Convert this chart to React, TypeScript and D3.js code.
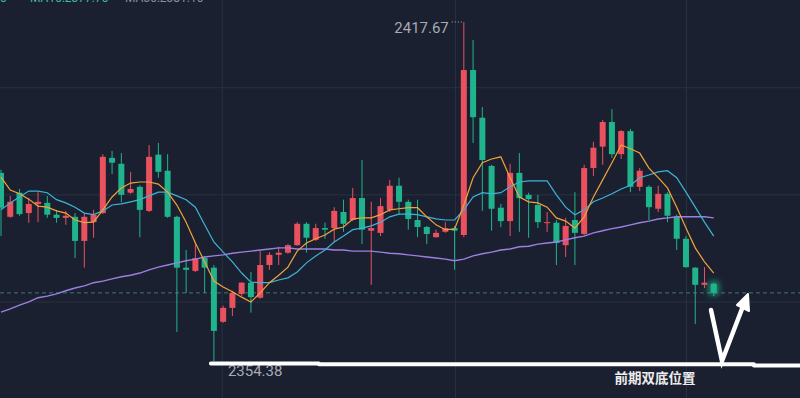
import React from 'react';
import * as d3 from 'd3';

const W = 800;
const H = 398;

const opens = [2389.5, 2381.3, 2385.8, 2382.0, 2383.7, 2383.9, 2381.7, 2381.1, 2381.3, 2376.8,
  2380.3, 2382.0, 2392.3, 2391.2, 2385.8, 2386.9, 2382.4, 2392.9, 2389.9, 2381.3,
  2371.8, 2371.2, 2373.6, 2371.8, 2361.7, 2364.3, 2366.9, 2369.0, 2366.2, 2372.3,
  2374.2, 2374.6, 2376.0, 2380.0, 2377.0, 2379.2, 2379.2, 2382.2, 2380.7, 2384.8,
  2378.7, 2378.3, 2382.6, 2387.1, 2384.1, 2380.7, 2379.4, 2377.5, 2378.5, 2379.2,
  2377.9, 2408.7, 2399.8, 2390.8, 2383.0, 2380.5, 2389.5, 2385.4, 2383.5, 2380.2,
  2380.2, 2376.0, 2380.7, 2378.1, 2390.4, 2394.4, 2399.0, 2393.0, 2397.3, 2386.9,
  2386.9, 2382.8, 2385.6, 2381.3, 2377.2, 2371.8, 2368.6, 2368.8];
const highs = [2390.1, 2385.2, 2386.5, 2384.8, 2385.9, 2385.2, 2382.6, 2382.4, 2382.0, 2382.0,
  2382.6, 2393.0, 2393.6, 2393.2, 2389.7, 2387.2, 2394.7, 2395.1, 2393.0, 2381.5,
  2375.1, 2376.6, 2374.0, 2372.3, 2364.7, 2367.5, 2369.1, 2371.0, 2374.9, 2374.7,
  2375.7, 2376.2, 2380.3, 2380.3, 2380.0, 2380.2, 2383.1, 2384.5, 2386.7, 2391.9,
  2384.1, 2384.8, 2388.2, 2388.6, 2384.5, 2384.5, 2379.6, 2378.9, 2380.3, 2379.6,
  2417.67, 2414.3, 2401.8, 2391.0, 2383.7, 2391.2, 2393.2, 2385.8, 2385.4, 2382.2,
  2380.7, 2381.1, 2385.9, 2391.0, 2395.3, 2399.4, 2401.4, 2397.5, 2397.7, 2390.4,
  2387.2, 2387.1, 2385.9, 2381.7, 2377.7, 2371.9, 2371.9, 2369.0];
const lows = [2377.7, 2381.1, 2381.5, 2380.2, 2380.3, 2381.1, 2380.2, 2379.8, 2373.6, 2371.8,
  2377.4, 2381.8, 2389.3, 2384.0, 2385.6, 2377.5, 2382.2, 2388.6, 2381.1, 2359.8,
  2367.1, 2371.0, 2367.1, 2354.38, 2361.5, 2362.8, 2366.5, 2363.4, 2366.0, 2371.4,
  2372.3, 2374.4, 2375.9, 2374.6, 2376.8, 2377.2, 2376.6, 2378.5, 2380.5, 2376.2,
  2368.6, 2377.7, 2382.2, 2381.7, 2378.9, 2377.5, 2376.2, 2377.4, 2378.3, 2371.4,
  2377.5, 2395.1, 2382.4, 2378.7, 2379.4, 2377.7, 2378.5, 2377.4, 2379.2, 2378.5,
  2372.3, 2373.8, 2372.3, 2377.9, 2388.9, 2391.0, 2392.3, 2392.1, 2385.9, 2386.1,
  2380.7, 2382.2, 2380.3, 2375.1, 2371.8, 2361.3, 2368.0, 2366.5];
const closes = [2383.0, 2384.1, 2381.8, 2383.7, 2384.1, 2381.7, 2381.1, 2381.5, 2376.8, 2381.3,
  2381.7, 2392.5, 2391.4, 2385.4, 2386.5, 2382.6, 2392.5, 2389.7, 2381.3, 2371.8,
  2371.4, 2373.6, 2371.8, 2360.0, 2364.3, 2367.1, 2369.0, 2366.3, 2372.3, 2374.2,
  2374.6, 2376.0, 2380.0, 2377.4, 2379.2, 2378.9, 2382.4, 2380.0, 2384.8, 2378.9,
  2379.2, 2383.3, 2387.1, 2384.1, 2380.9, 2379.4, 2378.1, 2378.3, 2379.2, 2378.7,
  2408.7, 2399.9, 2391.9, 2382.8, 2380.5, 2389.5, 2384.8, 2384.6, 2380.3, 2380.3,
  2376.4, 2379.6, 2378.3, 2390.4, 2394.2, 2399.0, 2393.0, 2397.3, 2386.9, 2389.9,
  2383.1, 2385.6, 2381.5, 2377.2, 2371.9, 2368.6, 2369.0, 2367.1];

const maShort = [2388.7, 2386.3, 2385.6, 2384.6, 2383.3, 2383.1, 2382.4, 2382.0, 2380.7, 2380.2,
  2380.3, 2382.6, 2385.0, 2386.7, 2387.6, 2387.8, 2387.8, 2387.4, 2385.9, 2383.5,
  2380.3, 2376.4, 2372.9, 2369.3, 2368.2, 2367.3, 2366.3, 2365.4, 2367.1, 2369.0,
  2370.4, 2371.9, 2374.9, 2376.4, 2377.2, 2377.9, 2379.0, 2379.4, 2380.9, 2381.1,
  2381.1, 2381.7, 2382.6, 2382.8, 2383.0, 2383.0, 2381.3, 2379.8, 2378.9, 2379.0,
  2383.5, 2388.6, 2391.4, 2392.1, 2392.5, 2388.6, 2385.0, 2384.1, 2383.9, 2383.1,
  2381.1, 2380.5, 2379.2, 2381.3, 2385.0, 2388.2, 2391.4, 2394.7, 2394.0, 2393.2,
  2390.4, 2388.6, 2386.7, 2383.1, 2379.2, 2375.5, 2372.9, 2370.8];
const maMid = [2382.6, 2383.9, 2385.0, 2386.1, 2386.1, 2385.8, 2384.5, 2383.9, 2383.1, 2382.0,
  2381.7, 2382.4, 2383.5, 2383.7, 2384.1, 2384.5, 2385.2, 2385.9, 2385.9, 2385.2,
  2384.5, 2383.1, 2379.8, 2376.6, 2374.7, 2372.9, 2370.8, 2369.1, 2369.0, 2369.0,
  2369.5, 2369.9, 2371.0, 2372.7, 2374.0, 2375.1, 2376.6, 2377.7, 2378.9, 2379.2,
  2379.6, 2380.3, 2381.3, 2381.8, 2381.8, 2381.7, 2381.3, 2380.9, 2380.7, 2380.7,
  2382.6, 2385.0, 2385.8, 2385.6, 2385.8, 2386.9, 2387.8, 2388.0, 2388.0, 2388.0,
  2385.4, 2383.1, 2381.7, 2382.6, 2384.1, 2384.8, 2385.6, 2386.5, 2387.2, 2388.6,
  2389.1, 2389.7, 2389.9, 2388.6, 2385.9, 2383.1, 2380.3, 2377.7];
const maLong = [2363.5, 2364.1, 2364.8, 2365.4, 2366.2, 2366.5, 2366.9, 2367.5, 2368.0, 2368.4,
  2369.0, 2369.3, 2369.7, 2370.1, 2370.4, 2370.8, 2371.4, 2371.9, 2372.3, 2372.7,
  2373.1, 2373.4, 2373.8, 2374.0, 2374.2, 2374.5, 2374.7, 2374.9, 2375.1, 2375.3,
  2375.5, 2375.5, 2375.3, 2375.3, 2375.3, 2375.3, 2375.1, 2375.1, 2374.9, 2374.9,
  2374.9, 2374.7, 2374.5, 2374.4, 2374.2, 2374.0, 2373.8, 2373.6, 2373.4, 2373.1,
  2373.4, 2374.0, 2374.4, 2374.7, 2375.1, 2375.3, 2375.7, 2375.8, 2376.2, 2376.4,
  2376.6, 2377.0, 2377.4, 2377.7, 2378.3, 2378.7, 2379.1, 2379.4, 2379.8, 2380.2,
  2380.5, 2380.9, 2381.1, 2381.3, 2381.3, 2381.3, 2381.3, 2381.1];

const gridPrices = [2365.4, 2385.4, 2405.4];
const gridIndices = [23.9, 49.1, 74.05];
const highLabel = '2417.67';
const lowLabel = '2354.38';
const noteText = '前期双底位置';

const UP = '#e9515e';
const DOWN = '#1fb48c';

export default function App() {
  const n = opens.length;
  const x = d3.scaleLinear().domain([0, n - 1]).range([1, 713.75]);
  const y = d3.scaleLinear().domain([2354.38, 2417.67]).range([361, 22]);
  const line = d3.line<number>().x((_, i) => x(i)).y((d) => y(d));
  const bodyW = 6;

  const hiIdx = highs.indexOf(d3.max(highs) as number);
  const loIdx = lows.indexOf(d3.min(lows) as number);
  const last = n - 1;
  const lastY = y(closes[last]);
  const baseY = y(lows[loIdx]) + 2.5;

  return (
    <svg width={W} height={H} style={{ position: 'absolute', left: 0, top: 0, background: '#1b2030' }}
      fontFamily="Roboto, 'Noto Sans', sans-serif">
      <defs>
        <filter id="glow" x="-200%" y="-100%" width="500%" height="300%">
          <feGaussianBlur stdDeviation="3" />
        </filter>
      </defs>
      <rect width={W} height={H} fill="#1b2030" />
      {gridPrices.map((p) => (
        <line key={'h' + p} x1={0} x2={W} y1={y(p)} y2={y(p)} stroke="#283142" strokeWidth={1} />
      ))}
      {gridIndices.map((g) => (
        <line key={'v' + g} x1={x(g)} x2={x(g)} y1={0} y2={H} stroke="#283142" strokeWidth={1} />
      ))}
      <text y={2} fontSize={12} fill="#3fb9a6">
        <tspan x={0}>0</tspan>
        <tspan x={30}>MA10:2377.70</tspan>
        <tspan x={125} fill="#8a8f99">MA30:2381.10</tspan>
      </text>
      <line x1={0} x2={W} y1={lastY} y2={lastY} stroke="#3f7b74" strokeWidth={1} strokeDasharray="4 3" />

      {opens.map((o, i) => {
        const c = closes[i];
        const up = c >= o;
        const col = up ? UP : DOWN;
        const top = y(Math.max(o, c));
        const h = Math.max(1, y(Math.min(o, c)) - top);
        const cx = x(i);
        return (
          <g key={i}>
            {i === last && (
              <rect x={cx - bodyW / 2 - 2} y={top - 2} width={bodyW + 4} height={h + 4} fill={col} opacity={0.8} filter="url(#glow)" />
            )}
            <line x1={cx} x2={cx} y1={y(highs[i])} y2={y(lows[i])} stroke={col} strokeWidth={1} />
            <rect x={cx - bodyW / 2} y={top} width={bodyW} height={h} fill={col} />
          </g>
        );
      })}

      <path d={line(maLong) || ''} fill="none" stroke="#9d7fe3" strokeWidth={1.4} />
      <path d={line(maMid) || ''} fill="none" stroke="#3db3d6" strokeWidth={1.2} />
      <path d={line(maShort) || ''} fill="none" stroke="#f2a23a" strokeWidth={1.2} />

      <text x={x(hiIdx) - 15} y={y(highs[hiIdx]) + 11} fontSize={15} fill="#a6abb4" textAnchor="end">{highLabel}</text>
      <line x1={x(hiIdx) - 12} x2={x(hiIdx) - 1} y1={y(highs[hiIdx])} y2={y(highs[hiIdx])} stroke="#a6abb4" strokeWidth={1} strokeDasharray="1 2" />
      <text x={x(loIdx) + 14} y={y(lows[loIdx]) + 15} fontSize={15} fill="#a6abb4">{lowLabel}</text>

      <path d={`M${x(loIdx) - 3},${baseY} L${x(loIdx) + 105},${baseY} M${x(loIdx) + 105},${baseY + 0.8} L${x(loIdx) + 540},${baseY + 0.8} M${x(loIdx) + 540},${baseY + 2} L${W},${baseY + 2}`}
        stroke="#ffffff" strokeWidth={4} fill="none" strokeLinecap="round" />

      <path d="M711,310 L722,361 L745,301" stroke="#ffffff" strokeWidth={4.5} fill="none" strokeLinejoin="miter" strokeLinecap="round" />
      <path d="M737,305 L748,294 L749,311 Z" fill="#ffffff" stroke="#ffffff" strokeWidth={2} strokeLinejoin="round" />

      <text x={655} y={383} fontSize={13.5} fill="#ececec" fontWeight={700} textAnchor="middle"
        fontFamily="'Noto Sans CJK SC', sans-serif">{noteText}</text>
    </svg>
  );
}
